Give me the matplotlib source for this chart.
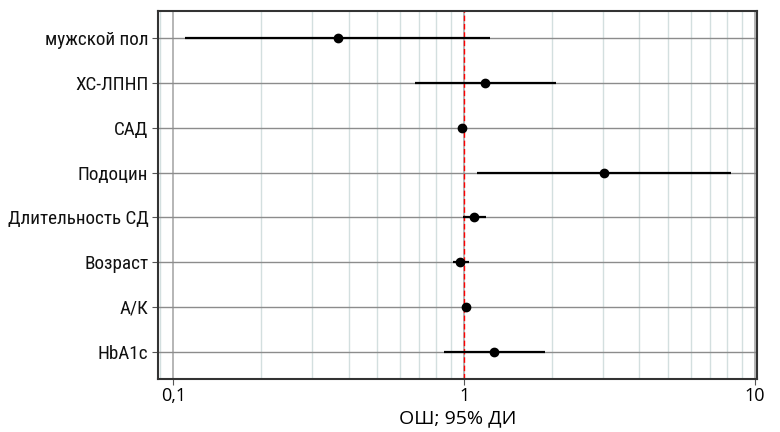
import matplotlib
matplotlib.use("Agg")
import matplotlib.pyplot as plt
from matplotlib.ticker import FixedLocator, LogLocator, NullFormatter
import numpy as np

# data (odds ratio with 95% CI)
labels = ["мужской пол", "ХС-ЛПНП", "САД", "Подоцин",
          "Длительность СД", "Возраст", "А/К", "HbA1c"]
odds = [0.367, 1.18, 0.98, 3.02, 1.084, 0.97, 1.017, 1.27]
ci_low = [0.110, 0.676, 0.965, 1.11, 0.99, 0.915, 1.0, 0.85]
ci_high = [1.23, 2.07, 0.995, 8.24, 1.186, 1.036, 1.035, 1.90]
xticks = [0.1, 1, 10]
xtick_labels = ["0,1", "1", "10"]

narrow = ["Liberation Sans Narrow", "Roboto Condensed", "Roboto", "DejaVu Sans"]
regular = ["Open Sans", "DejaVu Sans"]

fig = plt.figure(figsize=(7.8, 4.32), dpi=100)
ax = fig.add_axes([158 / 780, 1 - 379 / 432, (757 - 158) / 780, (379 - 11) / 432])

ypos = np.arange(len(labels), 0, -1)

ax.set_xscale("log")
ax.set_xlim(0.0885, 10.15)
ax.set_ylim(0.39, 8.61)

# grid
ax.xaxis.set_minor_locator(LogLocator(base=10, subs=np.arange(2, 10)))
ax.xaxis.set_minor_formatter(NullFormatter())
ax.grid(which="minor", axis="x", color="#d3dfdf", lw=1.0)
ax.grid(which="major", axis="x", color="#a9a9a9", lw=1.2)
ax.grid(which="major", axis="y", color="#8c8c8c", lw=1.0)
ax.set_axisbelow(True)

ax.axvline(1, color="#ff0000", ls=(0, (4, 2)), lw=1.0, zorder=2)

ax.hlines(ypos, ci_low, ci_high, color="black", lw=1.6, zorder=3)
ax.plot(odds, ypos, "o", color="black", ms=6, zorder=4)

ax.xaxis.set_major_locator(FixedLocator(xticks))
ax.set_xticklabels(xtick_labels, fontfamily=regular, fontsize=13)
ax.tick_params(axis="x", which="minor", length=0)
ax.tick_params(axis="x", which="major", length=4, color="#555555", pad=2)

ax.set_yticks(ypos)
ax.set_yticklabels(labels, fontfamily=narrow, fontsize=13.8, color="#111111")
ax.tick_params(axis="y", length=4, color="#555555", pad=3)

for s in ax.spines.values():
    s.set_color("#333333")
    s.set_linewidth(1.5)

ax.set_xlabel("ОШ; 95% ДИ", fontfamily=regular, fontsize=14, labelpad=3)

fig.savefig("out.png", dpi=100)
